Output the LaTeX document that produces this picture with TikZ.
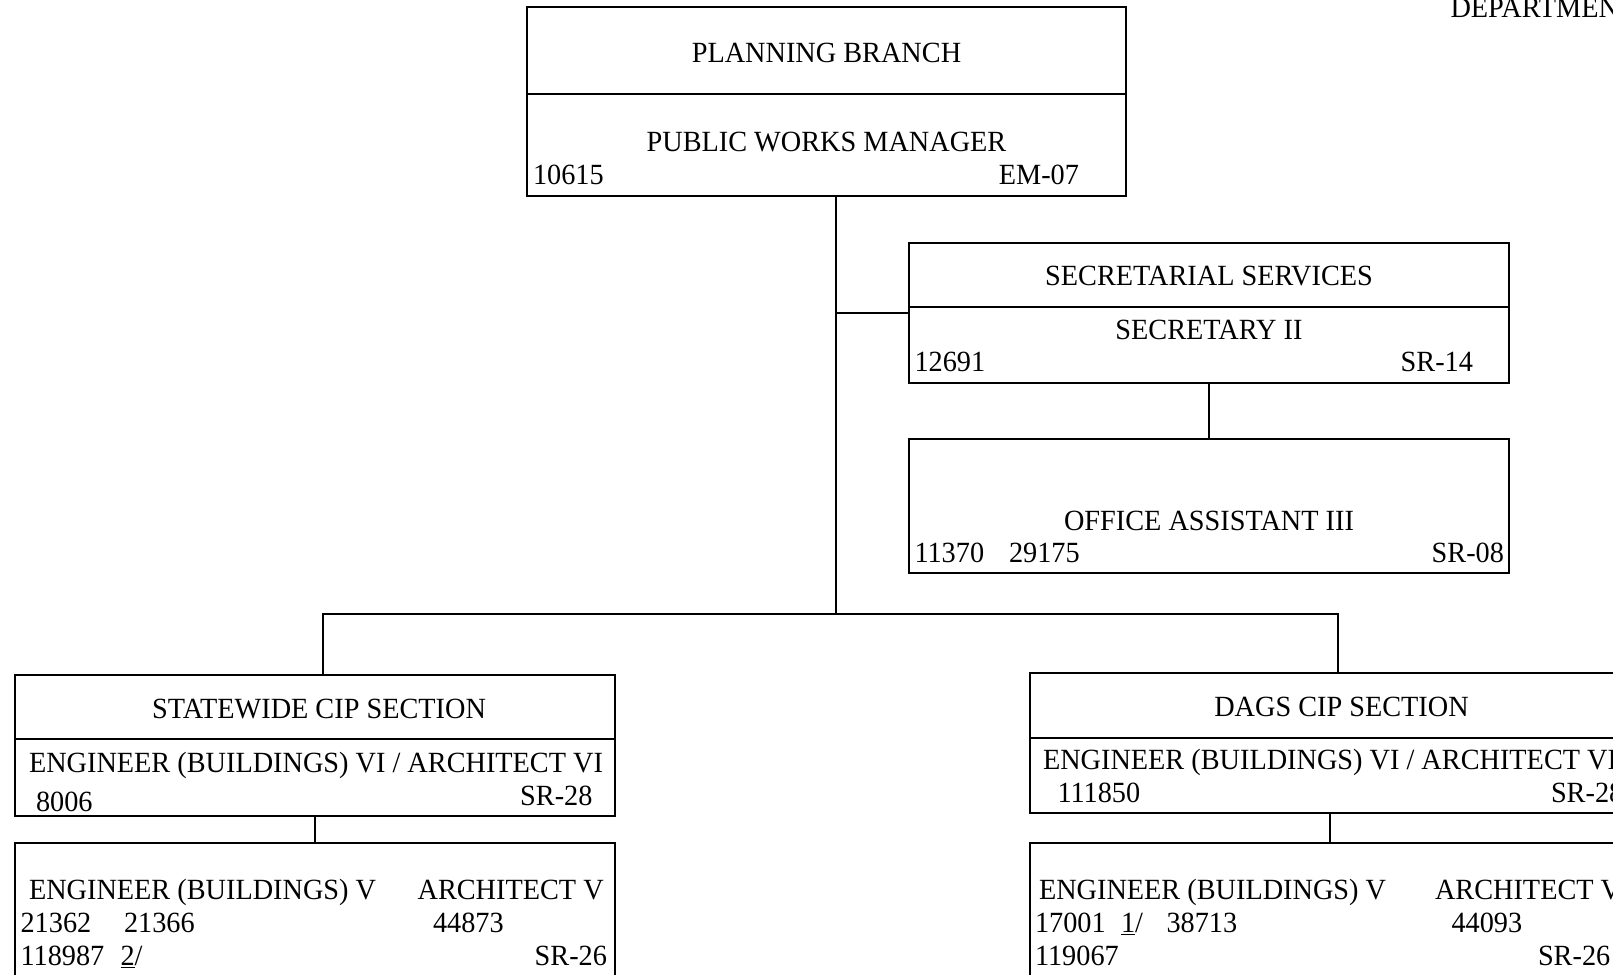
\documentclass[tikz,border=0pt]{standalone}
\usepackage{fontspec}
\setmainfont[FakeStretch=0.965]{Liberation Serif}
\begin{document}
\begin{tikzpicture}[x=0.5pt,y=-0.5pt,
  box/.style={draw,line width=1pt,inner sep=0pt,outer sep=0pt},
  link/.style={line width=1pt},
  txt/.style={inner sep=0pt,outer sep=0pt,font=\fontsize{14.65}{17.6}\selectfont}]
\useasboundingbox (0,0) rectangle (1613,975);
\clip (0,0) rectangle (1613,975);
% boxes
\node[box,minimum width=299.5pt,minimum height=94.25pt] (top) at (826.5,101.25) {};
\node[box,minimum width=300pt,minimum height=70pt] (sec) at (1209,313) {};
\node[box,minimum width=300pt,minimum height=67pt] (off) at (1209,506) {};
\node[box,minimum width=299.8pt,minimum height=70.5pt] (sw) at (315.2,745.5) {};
\node[box,minimum width=299.8pt,minimum height=80pt] (swl) at (315.2,922.5) {};
\node[box,minimum width=300pt,minimum height=70pt] (dg) at (1330,743) {};
\node[box,minimum width=300pt,minimum height=80pt] (dgl) at (1330,922.5) {};
% dividers
\draw[link] (top.west |- 0,93.6) -- (top.east |- 0,93.6);
\draw[link] (sec.west |- 0,306.6) -- (sec.east |- 0,306.6);
\draw[link] (sw.west |- 0,738.6) -- (sw.east |- 0,738.6);
\draw[link] (dg.west |- 0,737.6) -- (dg.east |- 0,737.6);
% connectors
\coordinate (bus) at (836,614);
\coordinate (bl) at (323,614);
\coordinate (br) at (1338,614);
\draw[link] (top.south -| bus) -- (bus);
\draw[link] (sec.west -| bus) -- (sec.west);
\draw[link] (sec.south) -- (off.north);
\draw[link] (sw.north -| bl) -- (bl) -- (br) -- (dg.north -| br);
\draw[link] (sw.south) -- (swl.north);
\draw[link] (dg.south) -- (dgl.north);
% texts
\node[txt,anchor=base west] (dept) at (1450.5,17) {DEPARTMENT};
\node[txt,anchor=base] (t1) at (826.5,62.5) {PLANNING BRANCH};
\node[txt,anchor=base] (t2) at (826.5,151.5) {PUBLIC WORKS MANAGER};
\node[txt,anchor=base west] (t3) at (533,184.5) {10615};
\node[txt,anchor=base east] (t4) at (1079,184.5) {EM-07};
\node[txt,anchor=base] (s1) at (1209,285.5) {SECRETARIAL SERVICES};
\node[txt,anchor=base] (s2) at (1209,339.5) {SECRETARY II};
\node[txt,anchor=base west] (s3) at (914.5,371.5) {12691};
\node[txt,anchor=base east] (s4) at (1473,371.5) {SR-14};
\node[txt,anchor=base] (o1) at (1209,530) {OFFICE ASSISTANT III};
\node[txt,anchor=base west] (o2) at (914.5,562.5) {11370};
\node[txt,anchor=base west] (o3) at (1009,562.5) {29175};
\node[txt,anchor=base east] (o4) at (1504,562.5) {SR-08};
\node[txt,anchor=base] (w1) at (319,718.5) {STATEWIDE CIP SECTION};
\node[txt,anchor=base west] (w2) at (29,772.5) {ENGINEER (BUILDINGS) VI / ARCHITECT VI};
\node[txt,anchor=base west] (w3) at (36,811.5) {8006};
\node[txt,anchor=base east] (w4) at (592.5,805.5) {SR-28};
\node[txt,anchor=base west] (w5) at (29,899) {ENGINEER (BUILDINGS) V};
\node[txt,anchor=base west] (w6) at (417.6,899) {ARCHITECT V};
\node[txt,anchor=base west] (w7) at (20.6,932) {21362};
\node[txt,anchor=base west] (w8) at (124,932) {21366};
\node[txt,anchor=base west] (w9) at (433,932) {44873};
\node[txt,anchor=base west] (w10) at (20.6,965) {118987};
\node[txt,anchor=base west] (w11) at (120.5,965) {\underline{2}/};
\node[txt,anchor=base east] (w12) at (607,965) {SR-26};
\node[txt,anchor=base] (d1) at (1341.5,716.5) {DAGS CIP SECTION};
\node[txt,anchor=base west] (d2) at (1043,769.5) {ENGINEER (BUILDINGS) VI / ARCHITECT VI};
\node[txt,anchor=base west] (d3) at (1057.5,802.5) {111850};
\node[txt,anchor=base west] (d4) at (1551,802.5) {SR-28};
\node[txt,anchor=base west] (d5) at (1039,899) {ENGINEER (BUILDINGS) V};
\node[txt,anchor=base west] (d6) at (1435,899) {ARCHITECT V};
\node[txt,anchor=base west] (d7) at (1035,932) {17001};
\node[txt,anchor=base west] (d8) at (1121,932) {\underline{1}/};
\node[txt,anchor=base west] (d9) at (1166.5,932) {38713};
\node[txt,anchor=base west] (d10) at (1451.5,932) {44093};
\node[txt,anchor=base west] (d11) at (1035,965) {119067};
\node[txt,anchor=base west] (d12) at (1538,965) {SR-26};
\end{tikzpicture}
\end{document}
